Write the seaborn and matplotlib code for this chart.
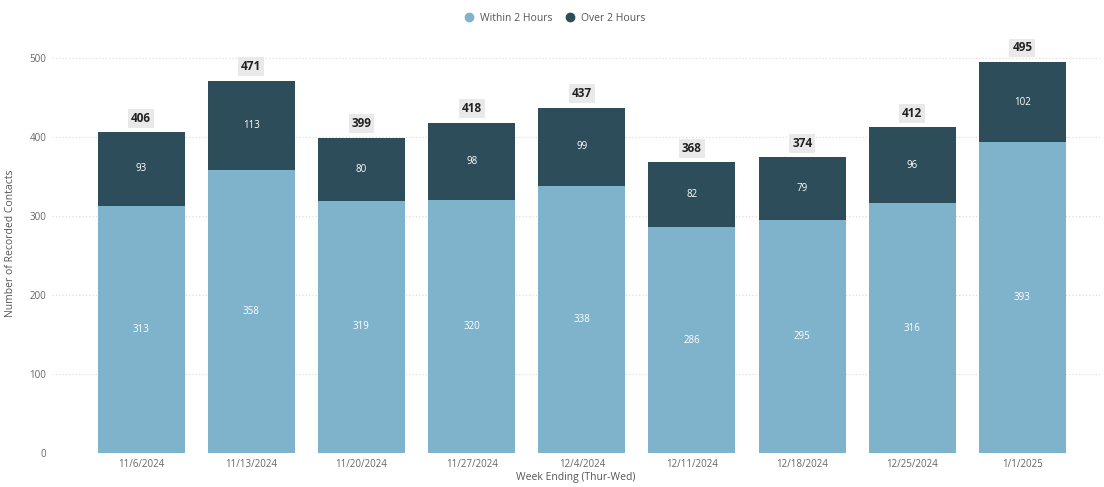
import matplotlib
matplotlib.use("Agg")
import matplotlib.pyplot as plt
import seaborn as sns
import pandas as pd
from matplotlib.lines import Line2D

weeks = ["11/6/2024", "11/13/2024", "11/20/2024", "11/27/2024", "12/4/2024",
         "12/11/2024", "12/18/2024", "12/25/2024", "1/1/2025"]
within_2h = [313, 358, 319, 320, 338, 286, 295, 316, 393]
over_2h = [93, 113, 80, 98, 99, 82, 79, 96, 102]
totals = [w + o for w, o in zip(within_2h, over_2h)]

light = "#7FB3CB"
dark = "#2E4D5A"

sns.set_theme(style="white")
plt.rcParams['font.family'] = ['Open Sans', 'DejaVu Sans']

df = pd.DataFrame({"week": weeks, "within": within_2h, "over": over_2h, "total": totals})

fig = plt.figure(figsize=(11.04, 4.87), dpi=100)
ax = fig.add_axes([0.047, 0.0698, 0.949, 0.860])

sns.barplot(data=df, x="week", y="total", color=dark, width=0.79, saturation=1, ax=ax,
            zorder=3, linewidth=0, edgecolor="none")
sns.barplot(data=df, x="week", y="within", color=light, width=0.79, saturation=1, ax=ax,
            zorder=3, linewidth=0, edgecolor="none")

for i, (w, o, t) in enumerate(zip(within_2h, over_2h, totals)):
    ax.text(i, w / 2, str(w), ha="center", va="center", color="white", fontsize=7, zorder=5)
    ax.text(i, w + o / 2, str(o), ha="center", va="center", color="white", fontsize=7, zorder=5)
    ax.annotate(str(t), (i, t), xytext=(0, 10), textcoords="offset points",
                ha="center", va="center", fontsize=8.5, fontweight="bold", color="#222222",
                bbox=dict(boxstyle="square,pad=0.25", fc="#E9E9E9", ec="none"), zorder=6)

ax.set_xlim(-0.81, 8.7)
ax.set_ylim(0, 530)
ax.set_yticks([0, 100, 200, 300, 400, 500])
ax.yaxis.grid(True, linestyle=(0, (1, 2)), color="#D8D8D8", linewidth=0.8, zorder=0)
ax.xaxis.grid(False)
for s in ax.spines.values():
    s.set_visible(False)
ax.tick_params(axis="both", labelsize=7, colors="#666666", length=0, pad=4)
ax.set_xlabel("Week Ending (Thur-Wed)", fontsize=7.5, color="#555555", labelpad=2)
ax.set_ylabel("Number of Recorded Contacts", fontsize=7.5, color="#555555", labelpad=10)

handles = [Line2D([0], [0], marker="o", linestyle="", markerfacecolor=light, markeredgecolor=light, markersize=6),
           Line2D([0], [0], marker="o", linestyle="", markerfacecolor=dark, markeredgecolor=dark, markersize=6)]
fig.legend(handles, ["Within 2 Hours", "Over 2 Hours"], loc="center", bbox_to_anchor=(0.5, 0.963),
           ncol=2, frameon=False, fontsize=7.5, handletextpad=0.1, columnspacing=0.6, labelcolor="#555555")

fig.savefig("out.png", dpi=100)
